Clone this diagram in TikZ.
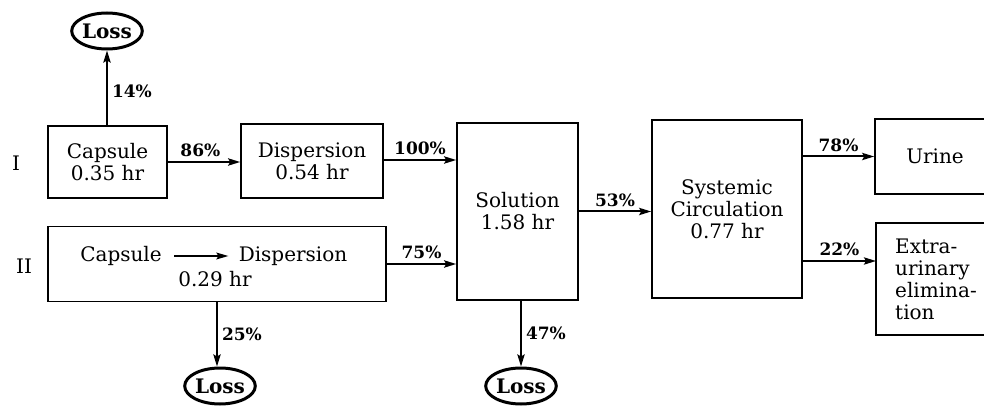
\documentclass[tikz,border=0pt]{standalone}
\usepackage{fontspec}
\setmainfont{DejaVu Serif}
\usetikzlibrary{positioning, shapes.geometric, arrows.meta}

\tikzset{
  box/.style={draw, line width=0.8pt, align=center, inner sep=0pt,
    font=\fontsize{10}{11}\selectfont},
  loss/.style={draw, ellipse, line width=1.5pt, minimum width=35pt,
    minimum height=18pt, inner sep=0pt, font=\bfseries\fontsize{10}{11}\selectfont},
  flow/.style={-{Stealth[length=6pt,width=3.6pt,inset=1pt]}, line width=1pt},
  pct/.style={font=\bfseries\fontsize{8.5}{9}\selectfont, inner sep=2pt}
}

\begin{document}
\begin{tikzpicture}[x=0.5pt, y=-0.5pt]
      \clip (0,0) rectangle (984,406);

      \node[font=\fontsize{10}{11}\selectfont] (one) at (16,163) {I};
      \node[font=\fontsize{10}{11}\selectfont] (two) at (24,266) {II};

      \node[box, minimum width=59.5pt, minimum height=36pt] (capone) at (107.5,162) {Capsule\\0.35 hr};
      \node[box, minimum width=71pt, minimum height=37pt] (dispone) at (312,161) {Dispersion\\0.54 hr};
      \node[box, minimum width=169pt, minimum height=37.5pt] (captwo) at (217,264) {};
      \node[box, minimum width=60.5pt, minimum height=88.5pt] (sol) at (517.5,211.5) {Solution\\1.58 hr};
      \node[box, minimum width=75pt, minimum height=89pt] (sys) at (727,209) {Systemic\\Circulation\\0.77 hr};
      \node[box, minimum width=60pt, minimum height=37.5pt] (urine) at (935,156.5) {Urine};
      \node[box, minimum width=60pt, minimum height=56pt, align=left] (extra) at (936,279) {Extra-\\urinary\\elimina-\\tion};

      % text inside the second box
      \node[font=\fontsize{10}{11}\selectfont, inner sep=1pt] (twocap) at (121,256) {Capsule};
      \node[font=\fontsize{10}{11}\selectfont, inner sep=1pt] (twodisp) at (293,256) {Dispersion};
      \node[font=\fontsize{10}{11}\selectfont] (twotime) at (215,279) {0.29 hr};
      \draw[-{Stealth[length=6pt,width=3.4pt,inset=1pt]}, line width=0.7pt, shorten <=5pt, shorten >=4pt] (twocap.east) -- (twodisp.west);

      \node[loss] (lossa) at (107,31) {Loss};
      \node[loss] (lossb) at (220,386) {Loss};
      \node[loss] (lossc) at (521,386) {Loss};

      \coordinate (extrain) at (876,261);

      \draw[flow] (capone.north -| lossa) -- node[pct, right, pos=0.45] {14\%} (lossa.south);
      \draw[flow] (capone.east) -- node[pct, above, pos=0.45] {86\%} (capone.east -| dispone.west);
      \draw[flow] (dispone.east |- 0,160) -- node[pct, above] {100\%} (sol.west |- 0,160);
      \draw[flow] (captwo.east) -- node[pct, above] {75\%} (captwo.east -| sol.west);
      \draw[flow] (captwo.south) -- node[pct, right] {25\%} (captwo.south |- lossb.north);
      \draw[flow] (sol.east) -- node[pct, above] {53\%} (sol.east -| sys.west);
      \draw[flow] (sol.south -| lossc) -- node[pct, right] {47\%} (lossc.north);
      \draw[flow] (urine.west -| sys.east) -- node[pct, above] {78\%} (urine.west);
      \draw[flow] (extrain -| sys.east) -- node[pct, above] {22\%} (extrain);
    \end{tikzpicture}
\end{document}
